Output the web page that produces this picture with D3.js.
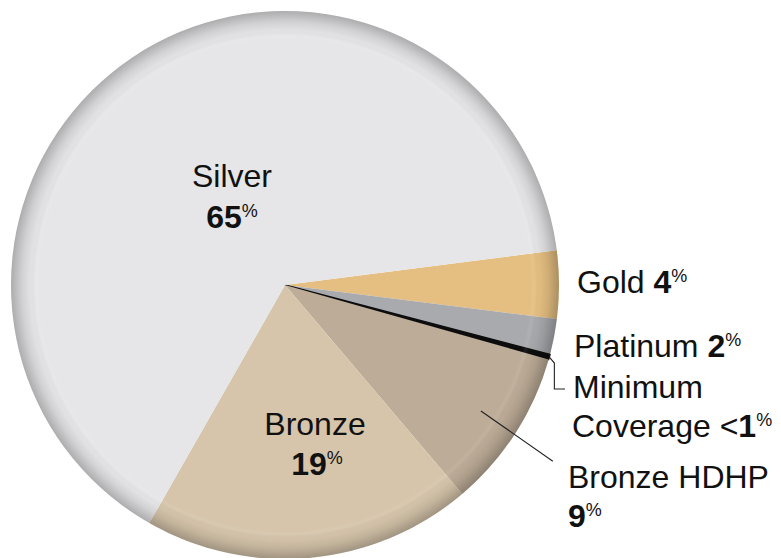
<!DOCTYPE html>
<html>
<head>
<meta charset="utf-8">
<script src="https://cdn.jsdelivr.net/npm/d3@7"></script>
<style>
  html, body { margin: 0; padding: 0; background: #fff; }
  svg { display: block; }
  text { font-family: "Liberation Sans", Arial, Helvetica, sans-serif; fill: #111; }
</style>
</head>
<body>
<svg id="chart" width="781" height="558"></svg>
<script>
// Plan tiers, in clockwise drawing order starting at the Gold slice
const tiers   = ["Gold", "Platinum", "Minimum Coverage", "Bronze HDHP", "Bronze", "Silver"];
const shares  = [4.0, 2.1, 0.3, 9.4, 19.4, 64.6];
const shareLabels = ["4", "2", "<1", "9", "19", "65"];
const colors  = ["#e5bf81", "#a8aaae", "#0d0d0d", "#bdac97", "#d6c5ab", "#e6e6e8"];

const svg = d3.select("#chart");
const cx = 285, cy = 285, R = 274;
const deg = Math.PI / 180;
const start = 82.7 * deg;

const pie = d3.pie().sort(null).value(d => d.v).startAngle(start).endAngle(start + 2 * Math.PI);
const data = pie(tiers.map((t, i) => ({ name: t, v: shares[i], color: colors[i], label: shareLabels[i] })));
const arc = d3.arc().innerRadius(0).outerRadius(R);

// Rim shading gradient (centred on the pie's own origin)
const defs = svg.append("defs");
const rg = defs.append("radialGradient").attr("id", "rim")
  .attr("gradientUnits", "userSpaceOnUse").attr("cx", 0).attr("cy", 0).attr("r", R);
[[0, "#fff", 0], [0.895, "#fff", 0], [0.91, "#fff", 0.07], [0.93, "#000", 0.02],
 [0.96, "#000", 0.09], [0.985, "#000", 0.19], [1, "#000", 0.25]]
  .forEach(([o, c, a]) => rg.append("stop").attr("offset", o).attr("stop-color", c).attr("stop-opacity", a));

const g = svg.append("g").attr("transform", `translate(${cx},${cy})`);
g.selectAll("path.slice").data(data).join("path")
  .attr("class", "slice")
  .attr("d", arc)
  .attr("fill", d => d.data.color)
  // the thin black wedge gets an outline so it reads as a solid band
  .attr("stroke", d => d.data.name === "Minimum Coverage" ? d.data.color : "none")
  .attr("stroke-width", 1.4)
  .attr("stroke-linejoin", "round");
g.append("circle").attr("r", R).attr("fill", "url(#rim)");

const byName = Object.fromEntries(data.map(d => [d.data.name, d]));
const polar = (a, r) => [cx + r * Math.sin(a), cy - r * Math.cos(a)];
const mid = d => (d.startAngle + d.endAngle) / 2;

// Label writer: name line(s) + bold value with small superscript %
function label(x, y, anchor, parts) {
  const t = svg.append("text").attr("x", x).attr("y", y).attr("text-anchor", anchor)
    .style("font-size", "32px");
  parts.forEach(p => {
    const s = t.append("tspan").text(p.text);
    if (p.bold) s.style("font-weight", "bold");
    if (p.sup) s.style("font-size", "18px").attr("dy", -11);
  });
  return t;
}
const valueParts = (name, prefix) => {
  const lab = byName[name].data.label;
  const lt = lab.startsWith("<");
  const out = [];
  if (prefix) out.push({ text: prefix });
  if (lt) out.push({ text: "<" });
  out.push({ text: lt ? lab.slice(1) : lab, bold: true });
  out.push({ text: "%", sup: true });
  return out;
};

// Inside labels
label(232, 187, "middle", [{ text: "Silver" }]);
label(232, 228, "middle", valueParts("Silver"));
label(315, 435, "middle", [{ text: "Bronze" }]);
label(317, 475, "middle", valueParts("Bronze"));

// Outside labels
label(577, 293, "start", valueParts("Gold", "Gold "));
label(574, 357, "start", valueParts("Platinum", "Platinum "));
label(573, 398, "start", [{ text: "Minimum" }]);
label(572, 437, "start", valueParts("Minimum Coverage", "Coverage "));
label(568, 488, "start", [{ text: "Bronze HDHP" }]);
label(568, 527, "start", valueParts("Bronze HDHP"));

// Leader lines
const mc = byName["Minimum Coverage"];
const p0 = polar(mid(mc), R);
svg.append("path")
  .attr("d", `M${p0[0]},${p0[1]} L${p0[0] + 5},${p0[1] + 6} L${p0[0] + 5},389 L565,389`)
  .attr("fill", "none").attr("stroke", "#222").attr("stroke-width", 1.1);

const hd = byName["Bronze HDHP"];
const a0 = polar(mid(hd), R * 0.85), a1 = polar(mid(hd) + 0.6 * deg, R * 1.17);
svg.append("line").attr("x1", a0[0]).attr("y1", a0[1]).attr("x2", a1[0]).attr("y2", a1[1])
  .attr("stroke", "#222").attr("stroke-width", 1.1);
</script>
</body>
</html>
